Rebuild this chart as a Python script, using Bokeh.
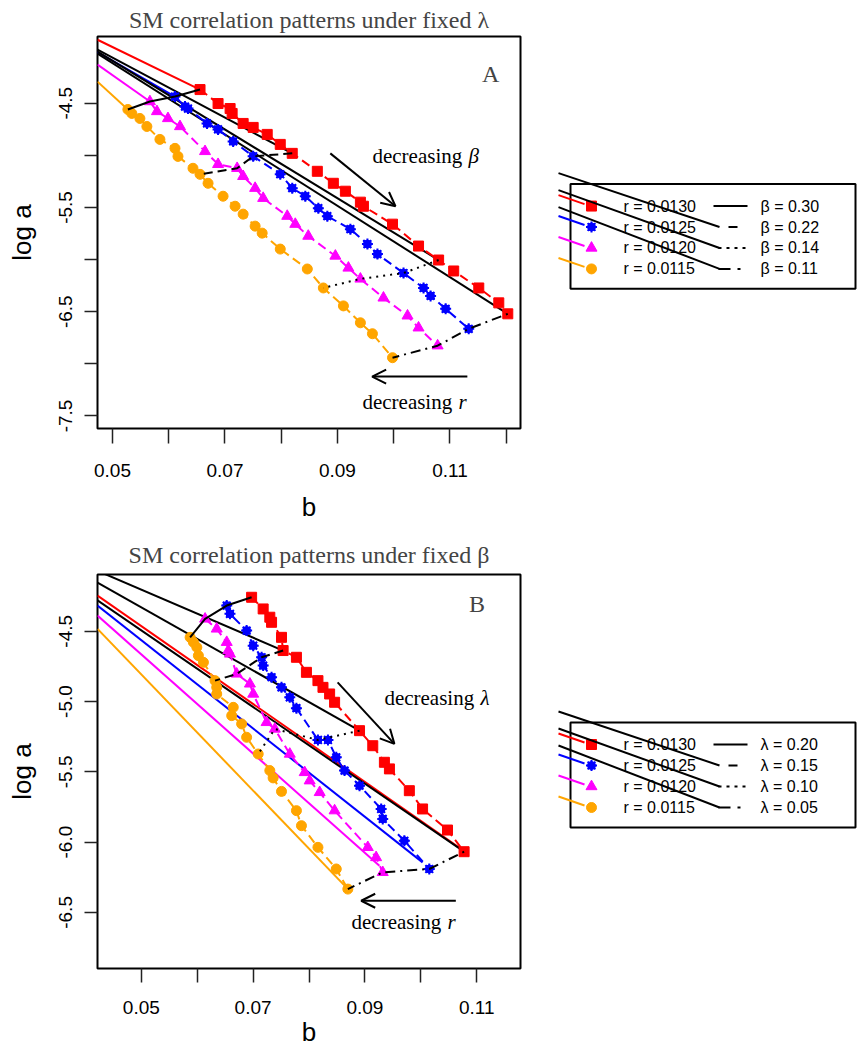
from bokeh.plotting import figure
from bokeh.layouts import column, row
from bokeh.models import Range1d, FixedTicker, Arrow, OpenHead, Label
from bokeh.embed import file_html
from bokeh.resources import INLINE
from bokeh.core.properties import value

SANS = "Liberation Sans"
SERIF = "Liberation Serif"

r_values = [0.0130, 0.0125, 0.0120, 0.0115]
beta_values = [0.30, 0.22, 0.14, 0.11]
lambda_values = [0.20, 0.15, 0.10, 0.05]
colors = ["#ff0000", "#0000ff", "#ff00ff", "#ffa500"]

# ---------------- Panel A (fixed lambda) ----------------
A_red_b = [0.06556, 0.06877, 0.07091, 0.07127, 0.07323, 0.07501, 0.07751, 0.07983, 0.08196, 0.08642, 0.08927,
           0.09141, 0.09408, 0.09462, 0.09979, 0.10442, 0.10799, 0.11067, 0.11513, 0.11869, 0.12029]
A_red_a = [-4.369, -4.503, -4.551, -4.598, -4.694, -4.732, -4.799, -4.895, -4.981, -5.153, -5.268,
           -5.344, -5.449, -5.488, -5.660, -5.870, -6.004, -6.109, -6.272, -6.415, -6.520]
A_blue_b = [0.06111, 0.06289, 0.06342, 0.06681, 0.06877, 0.07145, 0.07501, 0.07983, 0.08196, 0.08428,
            0.08660, 0.08820, 0.09230, 0.09533, 0.09711, 0.10175, 0.10531, 0.10656, 0.10924, 0.11334]
A_blue_a = [-4.436, -4.532, -4.551, -4.694, -4.751, -4.866, -5.009, -5.181, -5.315, -5.392,
            -5.507, -5.583, -5.708, -5.851, -5.947, -6.129, -6.272, -6.348, -6.472, -6.664]
A_mag_b = [0.05665, 0.05790, 0.05986, 0.06200, 0.06645, 0.06877, 0.07216, 0.07323, 0.07536, 0.07679, 0.08107,
           0.08250, 0.08481, 0.08963, 0.09195, 0.09408, 0.09818, 0.10246, 0.10442, 0.10781]
A_mag_a = [-4.484, -4.579, -4.646, -4.723, -4.962, -5.086, -5.124, -5.201, -5.315, -5.411, -5.583,
           -5.660, -5.774, -5.965, -6.080, -6.185, -6.367, -6.539, -6.654, -6.826]
A_ora_b = [0.05273, 0.05344, 0.05487, 0.05611, 0.05843, 0.06111, 0.06164, 0.06431, 0.06556, 0.06699, 0.06966,
           0.07180, 0.07323, 0.07536, 0.07661, 0.07983, 0.08464, 0.08749, 0.09106, 0.09408, 0.09622, 0.09979]
A_ora_a = [-4.560, -4.598, -4.646, -4.723, -4.847, -4.933, -5.010, -5.124, -5.182, -5.268, -5.392,
           -5.488, -5.564, -5.679, -5.746, -5.899, -6.090, -6.272, -6.444, -6.606, -6.711, -6.941]
A_beta_idx = [[0, 0, 0, 0], [8, 6, 6, 8], [16, 15, 15, 17], [20, 19, 19, 21]]
A_lead_a0 = [-3.891, -4.010, -4.130, -4.293]      # log a at left edge of colored lead lines
A_fan_a0 = [-3.987, -4.006, -4.025]               # log a at left edge of black fan lines
A_xrange = (0.04733, 0.12255)
A_yrange = (-7.62, -3.86)
A_xticks = [0.05, 0.06, 0.07, 0.08, 0.09, 0.10, 0.11, 0.12]
A_xlab = [0.05, 0.07, 0.09, 0.11]
A_yticks = [-4.5, -5.0, -5.5, -6.0, -6.5, -7.0, -7.5]
A_ylab = [-4.5, -5.5, -6.5, -7.5]

# ---------------- Panel B (fixed beta) ----------------
B_red_b = [0.06973, 0.07180, 0.07299, 0.07330, 0.07508, 0.07537, 0.07775, 0.07954, 0.08160, 0.08250,
           0.08369, 0.08458, 0.08904, 0.09141, 0.09349, 0.09439, 0.09795, 0.10032, 0.10478, 0.10775]
B_red_a = [-4.258, -4.341, -4.400, -4.436, -4.543, -4.637, -4.685, -4.792, -4.851, -4.899,
           -4.946, -5.005, -5.207, -5.314, -5.432, -5.479, -5.634, -5.764, -5.914, -6.068]
B_blue_b = [0.06528, 0.06586, 0.06884, 0.07002, 0.07152, 0.07180, 0.07330, 0.07508, 0.07656, 0.07775,
            0.08160, 0.08339, 0.08488, 0.08636, 0.08904, 0.09291, 0.09319, 0.09706, 0.10152]
B_blue_a = [-4.317, -4.376, -4.495, -4.602, -4.685, -4.744, -4.827, -4.899, -4.970, -5.047,
            -5.273, -5.273, -5.397, -5.491, -5.598, -5.764, -5.835, -5.990, -6.191]
B_mag_b = [0.06141, 0.06349, 0.06528, 0.06556, 0.06586, 0.06706, 0.06943, 0.07002, 0.07241, 0.07389,
           0.07656, 0.07923, 0.08012, 0.08191, 0.08458, 0.09052, 0.09201, 0.09319]
B_mag_a = [-4.412, -4.483, -4.578, -4.637, -4.661, -4.803, -4.874, -4.946, -5.148, -5.195,
           -5.373, -5.504, -5.563, -5.646, -5.776, -6.037, -6.109, -6.215]
B_ora_b = [0.05873, 0.05932, 0.05993, 0.06021, 0.06111, 0.06319, 0.06349, 0.06349, 0.06645, 0.06617, 0.06795,
           0.06884, 0.07091, 0.07299, 0.07358, 0.07508, 0.07775, 0.07865, 0.08160, 0.08488, 0.08695]
B_ora_a = [-4.543, -4.578, -4.614, -4.673, -4.721, -4.851, -4.899, -4.946, -5.041, -5.100, -5.159,
           -5.254, -5.373, -5.491, -5.543, -5.639, -5.776, -5.883, -6.037, -6.191, -6.334]
B_lambda_idx = [[0, 0, 0, 0], [5, 4, 5, 5], [12, 10, 9, 12], [19, 18, 17, 20]]
B_reg_a0 = [-4.246, -4.317, -4.388, -4.483]       # colored regression lines, log a at left edge
B_reg_b1 = [0.10686, 0.10032, 0.09260, 0.08667]
B_reg_a1 = [-6.039, -6.144, -6.168, -6.322]
B_fan_a0 = [-4.070, -4.153, -4.280]
B_xrange = (0.04216, 0.11784)
B_yrange = (-6.899, -4.096)
B_xticks = [0.05, 0.06, 0.07, 0.08, 0.09, 0.10, 0.11]
B_xlab = [0.05, 0.07, 0.09, 0.11]
B_yticks = [-4.5, -5.0, -5.5, -6.0, -6.5]
B_ylab = [-4.5, -5.0, -5.5, -6.0, -6.5]

STYLE_DASH = ["solid", "9 5", "2 5", "2 5 10 5"]
SERIES_DASH = "9 5"


def add_markers(p, i, xs, ys):
    c = colors[i]
    if i == 0:
        p.scatter(xs, ys, marker="square", size=10, color=c)
    elif i == 1:
        p.scatter(xs, ys, marker="circle", size=8, color=c)
        p.scatter(xs, ys, marker="asterisk", size=11, line_color=c, line_width=2)
    elif i == 2:
        p.scatter(xs, ys, marker="triangle", size=11, color=c)
    else:
        p.scatter(xs, ys, marker="circle", size=10, color=c)


def make_main(title, xr, yr, xt, xl, yt, yl, h, top, bottom):
    p = figure(width=522, height=h, x_range=Range1d(*xr), y_range=Range1d(*yr),
               output_backend="svg", toolbar_location=None, title=title,
               min_border_left=97, min_border_right=2, min_border_top=top, min_border_bottom=bottom)
    p.grid.visible = False
    p.outline_line_color = "black"
    p.outline_line_width = 2
    p.title.text_font = SERIF
    p.title.text_font_size = "24px"
    p.title.text_font_style = "normal"
    p.title.align = "center"
    p.xaxis.ticker = FixedTicker(ticks=xt)
    p.yaxis.ticker = FixedTicker(ticks=yt)
    p.xaxis.major_label_overrides = {t: (f"{t:.2f}" if t in xl else "") for t in xt}
    p.yaxis.major_label_overrides = {t: (f"{t:.1f}" if t in yl else "") for t in yt}
    for ax in (p.xaxis[0], p.yaxis[0]):
        ax.axis_line_color = None
        ax.major_tick_in = 0
        ax.minor_tick_line_color = None
        ax.major_tick_line_color = "#222222"
        ax.major_tick_line_width = 1.5
        ax.major_label_text_font = SANS
        ax.major_label_text_font_size = "19px"
        ax.major_label_text_color = "black"
        ax.axis_label_text_font = SANS
        ax.axis_label_text_font_size = "26px"
        ax.axis_label_text_font_style = "normal"
        ax.axis_label_text_color = "black"
    p.xaxis.axis_label = "b"
    p.yaxis.axis_label = "log a"
    p.yaxis.major_tick_out = 13
    p.yaxis.major_label_orientation = "vertical"
    p.yaxis.major_label_standoff = 12
    p.yaxis.axis_label_standoff = 20
    return p


def draw_panel(p, bs, as_, idx, fan_a0, fan_targets):
    x0 = p.x_range.start
    for a0, k in zip(fan_a0, fan_targets):
        j = idx[k][0]
        p.line([x0, bs[0][j]], [a0, as_[0][j]], color="black", line_width=2)
    for i in range(4):
        p.line(bs[i], as_[i], color=colors[i], line_width=2, line_dash=SERIES_DASH)
        add_markers(p, i, bs[i], as_[i])
    for k in range(4):
        xs = [bs[i][idx[k][i]] for i in range(4)]
        ys = [as_[i][idx[k][i]] for i in range(4)]
        p.line(xs, ys, color="black", line_width=2, line_dash=STYLE_DASH[k])


def add_text(p, x, y, main, sym, size="21px"):
    p.add_layout(Label(x=x, y=y, text=main, text_font=SERIF, text_font_size=size,
                       text_baseline="middle", text_align="left", text_color="black"))
    p.add_layout(Label(x=x, y=y, x_offset=96, text=sym, text_font=SERIF, text_font_size=size,
                       text_font_style="italic", text_baseline="middle", text_align="left",
                       text_color="black"))


def make_legend(h, frame_span, box_top, labels_right):
    # the frame of this figure is aligned with the frame of its neighbour; its ranges are page pixels
    lf = figure(width=335, height=h, x_range=Range1d(522, 857),
                y_range=Range1d(frame_span[1], frame_span[0]), output_backend="svg",
                toolbar_location=None, x_axis_location=None, y_axis_location=None,
                min_border_left=0, min_border_right=0, min_border_top=0, min_border_bottom=0)
    lf.grid.visible = False
    lf.outline_line_color = None
    rows = [box_top + 22 + 21 * i for i in range(4)]
    lf.quad(left=570, right=855, top=box_top, bottom=box_top + 105, fill_color="white",
            line_color="black", line_width=2)
    for i, ry in enumerate(rows):
        lf.line([558, 584], [ry - 11, ry - 2], color=colors[i], line_width=2)
        add_markers(lf, i, [591], [ry])
    lf.text(x=[623] * 4, y=rows, text=[f"r = {r:.4f}" for r in r_values], text_font=value(SANS),
            text_font_size="16px", text_baseline="middle", text_align="left", text_color="black")
    lf.text(x=[760] * 4, y=rows, text=labels_right, text_font=value(SANS),
            text_font_size="16px", text_baseline="middle", text_align="left", text_color="black")
    lf.line([713, 747], [rows[0], rows[0]], color="black", line_width=2)
    lf.line([728, 737], [rows[1], rows[1]], color="black", line_width=2)
    lf.line([718, 746], [rows[2], rows[2]], color="black", line_width=2, line_dash="3 5")
    lf.line([718, 741], [rows[3], rows[3]], color="black", line_width=2, line_dash="12 7 3 20")
    for k, off in zip([1, 2, 3], [-54, -58, -62]):
        lf.line([558, 719], [rows[k] + off, rows[k]], color="black", line_width=2)
    return lf


# ---------- Panel A ----------
HA, HB = 528, 522
pA = make_main("SM correlation patterns under fixed \u03bb", A_xrange, A_yrange, A_xticks, A_xlab,
               A_yticks, A_ylab, HA, 35, 100)
pA.title.standoff = 8
pA.xaxis.major_tick_out = 15
pA.xaxis.major_label_standoff = 20
pA.xaxis.axis_label_standoff = 12
A_bs = [A_red_b, A_blue_b, A_mag_b, A_ora_b]
A_as = [A_red_a, A_blue_a, A_mag_a, A_ora_a]
for i in range(4):
    pA.line([A_xrange[0], A_bs[i][0]], [A_lead_a0[i], A_as[i][0]], color=colors[i], line_width=2)
draw_panel(pA, A_bs, A_as, A_beta_idx, A_fan_a0, [1, 2, 3])
pA.add_layout(Label(x=0.11726, y=-4.216, text="A", text_font=SERIF, text_font_size="24px",
                    text_align="center", text_baseline="middle"))
pA.add_layout(Arrow(end=OpenHead(size=14, line_width=2), x_start=0.08873, y_start=-4.981,
                    x_end=0.10032, y_end=-5.488, line_width=2))
pA.add_layout(Arrow(end=OpenHead(size=14, line_width=2), x_start=0.11310, y_start=-7.122,
                    x_end=0.09617, y_end=-7.122, line_width=2))
add_text(pA, 0.09622, -5.010, "decreasing", "\u03b2")
add_text(pA, 0.09444, -7.368, "decreasing", "r")
lA = make_legend(HA, (35, 428), 183, [f"\u03b2 = {v:.2f}" for v in beta_values])

# ---------- Panel B ----------
pB = make_main("SM correlation patterns under fixed \u03b2", B_xrange, B_yrange, B_xticks, B_xlab,
               B_yticks, B_ylab, HB, 46, 82)
pB.title.standoff = 14
pB.xaxis.major_tick_out = 14
pB.xaxis.major_label_standoff = 18
pB.xaxis.axis_label_standoff = 0
B_bs = [B_red_b, B_blue_b, B_mag_b, B_ora_b]
B_as = [B_red_a, B_blue_a, B_mag_a, B_ora_a]
for i in range(4):
    pB.line([B_xrange[0], B_reg_b1[i]], [B_reg_a0[i], B_reg_a1[i]], color=colors[i], line_width=2)
draw_panel(pB, B_bs, B_as, B_lambda_idx, B_fan_a0, [1, 2, 3])
pB.add_layout(Label(x=0.11007, y=-4.303, text="B", text_font=SERIF, text_font_size="24px",
                    text_align="center", text_baseline="middle"))
pB.add_layout(Arrow(end=OpenHead(size=14, line_width=2), x_start=0.08512, y_start=-4.863,
                    x_end=0.09528, y_end=-5.301, line_width=2))
pB.add_layout(Arrow(end=OpenHead(size=14, line_width=2), x_start=0.10627, y_start=-6.417,
                    x_end=0.08934, y_end=-6.417, line_width=2))
add_text(pB, 0.09349, -4.972, "decreasing", "\u03bb")
add_text(pB, 0.08761, -6.571, "decreasing", "r")
lB = make_legend(HB, (574, 968), 722, [f"\u03bb = {v:.2f}" for v in lambda_values])

layout = column(row(pA, lA), row(pB, lB))
open("out.html", "w").write(file_html(layout, INLINE))
